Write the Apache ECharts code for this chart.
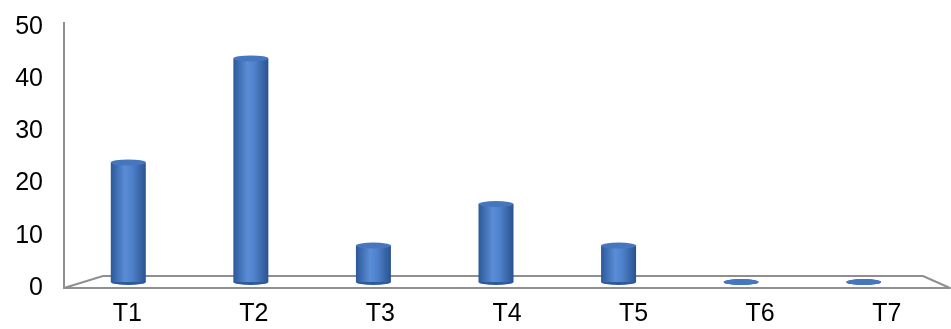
<!DOCTYPE html>
<html>
<head>
<meta charset="utf-8">
<script src="https://cdn.jsdelivr.net/npm/echarts@6/dist/echarts.min.js"></script>
<style>
  html, body { margin: 0; padding: 0; background: #fff; }
  #chart { width: 951px; height: 329px; }
</style>
</head>
<body>
<div id="chart"></div>
<script>
  // chart data
  const categories = ['T1', 'T2', 'T3', 'T4', 'T5', 'T6', 'T7'];
  const values = [23, 43, 7, 15, 7, 0, 0];
  const yTicks = [0, 10, 20, 30, 40, 50];

  const chart = echarts.init(document.getElementById('chart'), null, { renderer: 'canvas' });

  const axisGray = '#8f8f8f';
  const barWidth = 35;
  const bodyColor = new echarts.graphic.LinearGradient(0, 0, 1, 0, [
    { offset: 0, color: '#2c5898' },
    { offset: 0.4, color: '#5a8dd6' },
    { offset: 0.6, color: '#4f82cc' },
    { offset: 1, color: '#2a5290' }
  ]);

  const option = {
    animation: false,
    backgroundColor: '#fff',
    grid: [
      // front: axis labels + front floor edge
      { left: 64, right: 1, top: 27, bottom: 41 },
      // back: the bars sit a little behind
      { left: 67, right: 26, top: 22, bottom: 47 }
    ],
    xAxis: [
      {
        type: 'category',
        gridIndex: 0,
        data: categories,
        axisTick: { show: false },
        axisLine: { lineStyle: { color: axisGray, width: 2 } },
        axisLabel: {
          color: '#000',
          fontFamily: 'Liberation Sans',
          fontSize: 25,
          margin: 14
        }
      },
      {
        type: 'category',
        gridIndex: 1,
        data: categories,
        show: false
      }
    ],
    yAxis: [
      {
        type: 'value',
        gridIndex: 0,
        min: yTicks[0],
        max: yTicks[yTicks.length - 1],
        interval: 10,
        axisLine: { show: true, lineStyle: { color: axisGray, width: 2 } },
        axisTick: { show: false },
        splitLine: { show: false },
        axisLabel: {
          color: '#000',
          fontFamily: 'Liberation Sans',
          fontSize: 25,
          margin: 21
        }
      },
      {
        type: 'value',
        gridIndex: 1,
        min: yTicks[0],
        max: yTicks[yTicks.length - 1],
        show: false
      }
    ],
    graphic: [
      {
        type: 'polyline',
        z: 1,
        shape: { points: [[64, 288], [103, 276], [923, 276], [950, 288]] },
        style: { stroke: axisGray, lineWidth: 2, fill: null }
      },
      {
        type: 'line',
        z: 1,
        shape: { x1: 64, y1: 22, x2: 64, y2: 28 },
        style: { stroke: axisGray, lineWidth: 2 }
      }
    ],
    series: [
      {
        type: 'bar',
        xAxisIndex: 1,
        yAxisIndex: 1,
        data: values,
        barWidth: barWidth,
        itemStyle: { color: bodyColor },
        z: 3
      },
      {
        // bottom ellipse
        type: 'pictorialBar',
        xAxisIndex: 1,
        yAxisIndex: 1,
        data: values.map(() => 0.0001),
        symbol: 'circle',
        symbolSize: [barWidth, 6],
        symbolPosition: 'start',
        symbolOffset: [0, '50%'],
        itemStyle: { color: '#2d5a9c' },
        z: 2
      },
      {
        // top ellipse
        type: 'pictorialBar',
        xAxisIndex: 1,
        yAxisIndex: 1,
        data: values,
        symbol: 'circle',
        symbolSize: [barWidth, 6],
        symbolPosition: 'end',
        symbolOffset: [0, '-50%'],
        itemStyle: { color: '#4677be' },
        z: 4
      }
    ]
  };

  chart.setOption(option);
</script>
</body>
</html>
